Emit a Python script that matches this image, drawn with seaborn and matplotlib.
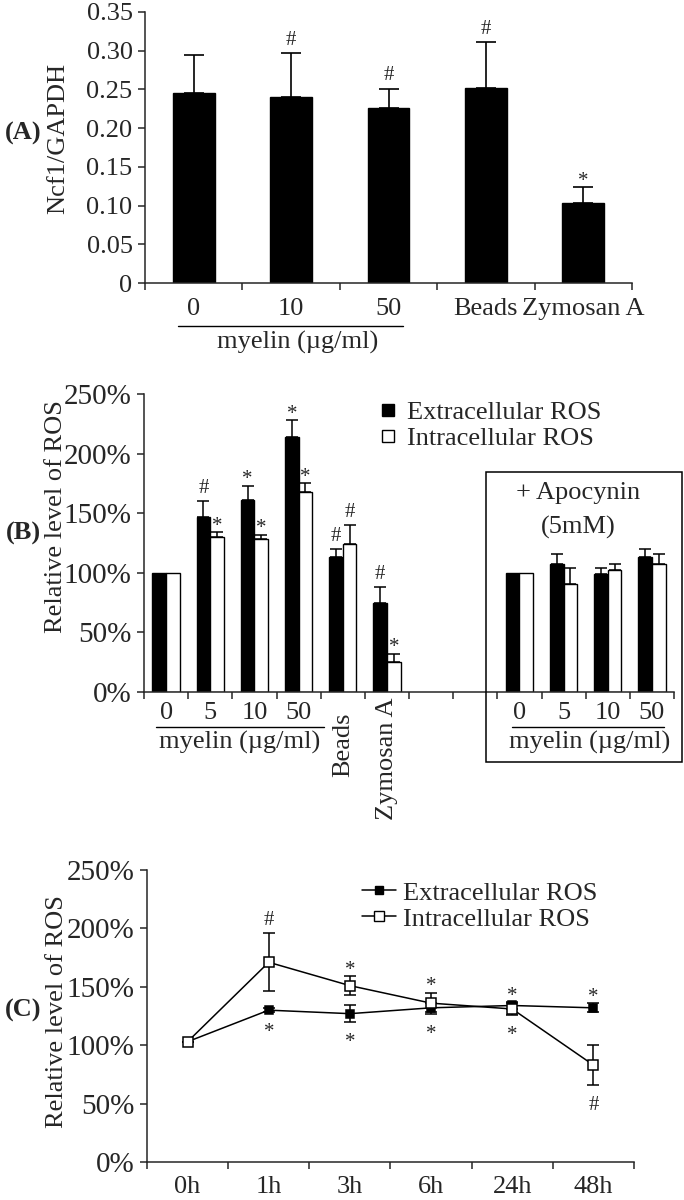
import matplotlib
matplotlib.use('Agg')
import matplotlib.pyplot as plt
from matplotlib.lines import Line2D
from matplotlib.patches import Rectangle
import seaborn as sns
import numpy as np
import pandas as pd

# ---- panel A: Ncf1/GAPDH ----
a_groups = ['0', '10', '50', 'Beads', 'Zymosan A']
a_ratio = [0.245, 0.240, 0.226, 0.252, 0.103]
a_err = [0.050, 0.057, 0.025, 0.059, 0.021]
a_sig = ['', '#', '#', '#', '*']
a_yticks = [0, 0.05, 0.10, 0.15, 0.20, 0.25, 0.30, 0.35]

# ---- panel B: ROS after stimulation (+/- apocynin) ----
series = ['Extracellular ROS', 'Intracellular ROS']
b_conditions = ['0', '5', '10', '50', 'Beads', 'Zymosan A',
                'apo 0', 'apo 5', 'apo 10', 'apo 50']
b_order = b_conditions[:6] + ['gap 1', 'gap 2'] + b_conditions[6:]
b_labels = ['0', '5', '10', '50', '', '', '', '', '0', '5', '10', '50']
b_extra = [100, 147, 161, 214, 113, 75, 100, 107, 99, 113]
b_extra_err = [0, 13, 12, 14, 7, 13, 0, 9, 5, 7]
b_intra = [100, 130, 128, 168, 124, 25, 100, 91, 102, 107]
b_intra_err = [0, 4, 4, 7, 16, 7, 0, 13, 5, 9]
b_extra_sig = ['', '#', '*', '*', '#', '#', '', '', '', '']
b_intra_sig = ['', '*', '*', '*', '#', '*', '', '', '', '']
pct_ticks = [0, 50, 100, 150, 200, 250]

# ---- panel C: time course ----
c_times = ['0h', '1h', '3h', '6h', '24h', '48h']
c_extra = [103, 130, 127, 132, 134, 132]
c_extra_err = [0, 2, 7, 4, 3, 4]
c_intra = [103, 171, 151, 136, 131, 83]
c_intra_err = [0, 25, 8, 9, 5, 17]
c_sig_above = ['', '#', '*', '*', '*', '*']
c_sig_below = ['', '*', '*', '*', '*', '#']

sns.set_style('ticks')
plt.rcParams['font.family'] = ['Liberation Serif', 'DejaVu Serif']
plt.rcParams['axes.linewidth'] = 1.1
FS = 19
PCT_FS = 21
SIG = 15

W, H = 684, 1200
fig = plt.figure(figsize=(W / 100, H / 100), dpi=100)


def box(x0, y0, x1, y1):
    # pixel box (top-left origin) -> figure fraction rect
    return [x0 / W, 1 - y1 / H, (x1 - x0) / W, (y1 - y0) / H]


def ftext(x, y, s, **kw):
    kw.setdefault('fontsize', FS)
    fig.text(x / W, 1 - y / H, s, ha='center', va='center', **kw)


def mark(ax, x, y, sym, above=True):
    if not sym:
        return
    if above:
        off = 6 if sym == '#' else 1
    else:
        off = -18
    ax.annotate(sym, (x, y), xytext=(0, off), textcoords='offset points',
                ha='center', va='baseline', fontsize=SIG)


def style_axis(ax, n, ysize=FS):
    sns.despine(ax=ax)
    ax.set_xlim(-0.5, n - 0.5)
    ax.set_xlabel('')
    ax.set_ylabel('')
    ax.set_xticks(np.arange(-0.5, n, 1), minor=True)
    ax.tick_params(axis='x', which='minor', length=5, width=1.1, direction='out')
    ax.tick_params(axis='y', length=5, width=1.1, labelsize=ysize, pad=4)


# ================= A =================
axA = fig.add_axes(box(145, 12, 632, 283))
dfa = pd.DataFrame({'group': a_groups, 'ratio': a_ratio})
sns.barplot(data=dfa, x='group', y='ratio', order=a_groups, color='black',
            saturation=1, width=0.43, edgecolor='black', errorbar=None, ax=axA)
for p, e, s in zip(axA.patches, a_err, a_sig):
    cx = p.get_x() + p.get_width() / 2
    top = p.get_height()
    axA.errorbar(cx, top, yerr=[[0], [e]], fmt='none', ecolor='black',
                 elinewidth=1.2, capsize=7, capthick=1.2)
    mark(axA, cx, top + e, s)
style_axis(axA, len(a_groups))
axA.set_ylim(0, 0.35)
axA.set_yticks(a_yticks)
axA.set_yticklabels(['0'] + ['%.2f' % v for v in a_yticks[1:]])
axA.set_xticks(range(len(a_groups)))
axA.set_xticklabels(a_groups)
axA.tick_params(axis='x', which='major', length=0, labelsize=FS, pad=11)
tA = axA.get_xaxis_transform()
axA.plot([-0.16, 2.15], [-0.159, -0.159], transform=tA, color='black', lw=1, clip_on=False)
axA.text(1.07, -0.221, 'myelin (µg/ml)', transform=tA, ha='center', va='center', fontsize=FS)
ftext(58, 138, 'Ncf1/GAPDH', rotation=90)
ftext(23, 133, '(A)', fontweight='bold')

# ================= B =================
axB = fig.add_axes(box(144, 394, 674, 692))
dfb = pd.DataFrame({
    'cond': b_conditions * 2,
    'series': [series[0]] * len(b_conditions) + [series[1]] * len(b_conditions),
    'level': b_extra + b_intra,
})
sns.barplot(data=dfb, x='cond', y='level', hue='series', order=b_order,
            hue_order=series, palette={series[0]: 'black', series[1]: 'white'},
            saturation=1, width=0.62, gap=0, edgecolor='black', linewidth=1,
            errorbar=None, legend=False, ax=axB)
b_lookup = {}
for i, c in enumerate(b_conditions):
    b_lookup[(c, 0)] = (b_extra_err[i], b_extra_sig[i])
    b_lookup[(c, 1)] = (b_intra_err[i], b_intra_sig[i])
for p in axB.patches:
    if p.get_height() <= 0:
        continue
    cx = p.get_x() + p.get_width() / 2
    idx = int(round(cx))
    h = 0 if cx < idx else 1
    e, s = b_lookup[(b_order[idx], h)]
    top = p.get_height()
    if e > 0:
        axB.errorbar(cx, top, yerr=[[0], [e]], fmt='none', ecolor='black',
                     elinewidth=1.1, capsize=4, capthick=1.1)
    mark(axB, cx, top + e, s)
style_axis(axB, len(b_order), PCT_FS)
axB.set_ylim(0, 250)
axB.set_yticks(pct_ticks)
axB.set_yticklabels(['%d%%' % v for v in pct_ticks])
axB.set_xticks([])
tB = axB.get_xaxis_transform()
for i, lab in enumerate(b_labels):
    if lab:
        axB.text(i, -0.07, lab, transform=tB, ha='center', va='center', fontsize=FS)
axB.text(4, -0.07, 'Beads', transform=tB, rotation=90, ha='center', va='top', fontsize=FS)
axB.text(5, -0.02, 'Zymosan A', transform=tB, rotation=90, ha='center', va='top', fontsize=FS)
for x0, x1, xc in [(-0.23, 3.58, 1.66), (7.83, 11.28, 9.6)]:
    axB.plot([x0, x1], [-0.117, -0.117], transform=tB, color='black', lw=1, clip_on=False)
    axB.text(xc, -0.168, 'myelin (µg/ml)', transform=tB, ha='center', va='center', fontsize=FS)
hB = [Line2D([], [], marker='s', ls='none', mfc='black', mec='black', ms=8),
      Line2D([], [], marker='s', ls='none', mfc='white', mec='black', ms=8)]
axB.legend(hB, series, loc='upper left', bbox_to_anchor=(0.446, 0.977), frameon=False,
           borderpad=0, borderaxespad=0, handlelength=0.6, handletextpad=0.4,
           labelspacing=0.1, fontsize=FS)
fig.patches.append(Rectangle((486 / W, 1 - 762 / H), 196 / W, 290 / H, fill=False,
                             edgecolor='black', lw=1.1, transform=fig.transFigure))
ftext(578, 493, '+ Apocynin')
ftext(578, 527, '(5mM)')
ftext(56, 517, 'Relative level of ROS', rotation=90)
ftext(23, 533, '(B)', fontweight='bold')

# ================= C =================
axC = fig.add_axes(box(147, 870, 634, 1162))
dfc = pd.DataFrame({
    'time': c_times * 2,
    'series': [series[0]] * len(c_times) + [series[1]] * len(c_times),
    'level': c_extra + c_intra,
})
sns.pointplot(data=dfc, x='time', y='level', hue='series', order=c_times,
              hue_order=series, palette={series[0]: 'black', series[1]: 'black'},
              markers=['s', 's'], linestyles=['-', '-'], errorbar=None,
              dodge=False, legend=False, ax=axC)
ext_line, int_line = axC.lines[0], axC.lines[1]
for ln, mfc, ms, z in [(ext_line, 'black', 6, 3), (int_line, 'white', 7.5, 4)]:
    ln.set_linewidth(1.1)
    ln.set_markersize(ms)
    ln.set_markerfacecolor(mfc)
    ln.set_markeredgecolor('black')
    ln.set_markeredgewidth(1.1)
    ln.set_zorder(z)
xs = np.asarray(ext_line.get_xdata(), dtype=float)
axC.errorbar(xs, c_extra, yerr=c_extra_err, fmt='none', ecolor='black',
             elinewidth=1.1, capsize=4, capthick=1.1, zorder=2)
axC.errorbar(xs, c_intra, yerr=c_intra_err, fmt='none', ecolor='black',
             elinewidth=1.1, capsize=4, capthick=1.1, zorder=2)
for i, x in enumerate(xs):
    hi = max(c_extra[i] + c_extra_err[i], c_intra[i] + c_intra_err[i])
    lo = min(c_extra[i] - c_extra_err[i], c_intra[i] - c_intra_err[i])
    mark(axC, x, hi, c_sig_above[i])
    mark(axC, x, lo, c_sig_below[i], above=False)
style_axis(axC, len(c_times), PCT_FS)
axC.set_ylim(0, 250)
axC.set_yticks(pct_ticks)
axC.set_yticklabels(['%d%%' % v for v in pct_ticks])
axC.set_xticks(range(len(c_times)))
axC.set_xticklabels(c_times)
axC.tick_params(axis='x', which='major', length=0, labelsize=FS, pad=10)
hC = [Line2D([], [], color='black', lw=1.1, marker='s', mfc='black', mec='black', ms=6),
      Line2D([], [], color='black', lw=1.1, marker='s', mfc='white', mec='black', ms=7.5)]
axC.legend(hC, series, loc='upper left', bbox_to_anchor=(0.441, 0.962), frameon=False,
           borderpad=0, borderaxespad=0, handlelength=1.3, handletextpad=0.25,
           labelspacing=0.1, fontsize=FS)
ftext(57, 1012, 'Relative level of ROS', rotation=90)
ftext(23, 1010, '(C)', fontweight='bold')

fig.savefig('out.png', dpi=100, facecolor='white')
